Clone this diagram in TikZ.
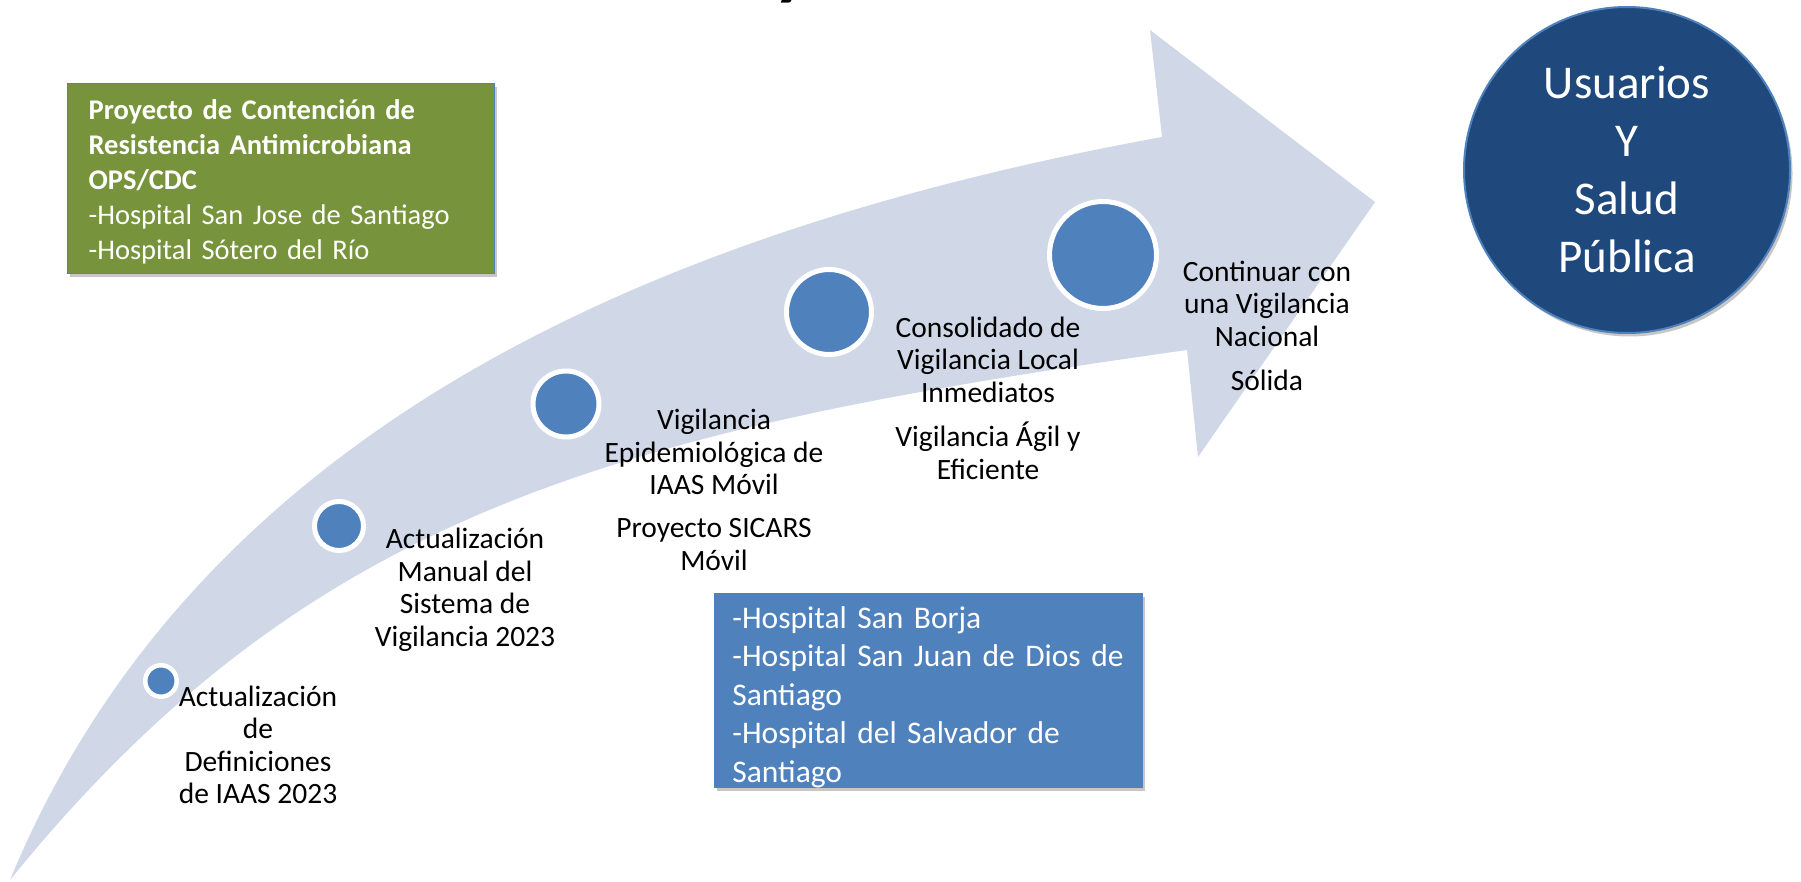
\documentclass[tikz,border=0pt]{standalone}
\usepackage{fontspec}
\setmainfont{Carlito}
\usetikzlibrary{shadows}
\definecolor{arrowc}{HTML}{D0D8E8}
\definecolor{dotc}{HTML}{4F81BD}
\definecolor{greenc}{HTML}{77933C}
\definecolor{navyc}{HTML}{1F497D}
\begin{document}
\begin{tikzpicture}[x=1pt,y=-1pt,
  dot/.style={circle, fill=dotc, draw=white, line width=5pt, inner sep=0pt},
  steptext/.style={align=center, inner sep=0pt, font=\fontsize{29.5}{32.5}\selectfont},
  softshadow/.style={drop shadow={shadow xshift=2.5pt, shadow yshift=-3.5pt, opacity=0.22, fill=black}},
  greenbox/.style={rectangle, fill=greenc, draw=dotc, line width=1.2pt, text=white, align=left,
     inner xsep=21pt, inner ysep=0pt, anchor=north west, softshadow,
     font=\fontsize{28.5}{35}\selectfont},
  bluebox/.style={rectangle, fill=dotc, draw=dotc, line width=0.8pt, text=white, align=left,
     inner xsep=18pt, inner ysep=0pt, anchor=north west, softshadow,
     font=\fontsize{31.5}{38.5}\selectfont},
  goal/.style={circle, fill=navyc, draw=dotc, line width=2pt, text=white, align=center,
     inner sep=0pt, softshadow, font=\fontsize{47}{58}\selectfont}]
\useasboundingbox (0,0) rectangle (1801,882);
\fill[white] (0,0) rectangle (1801,882);
% partial title glyph cut by the top edge
\begin{scope}
\clip (0,0) rectangle (1801,882);
\node[anchor=base, inner sep=0pt, font=\fontsize{80}{80}\selectfont\bfseries] (titley) at (792,-9) {y};
\end{scope}
% curved arrow
\coordinate (tail) at (10,880);
\coordinate (uj) at (1162,137);
\coordinate (hl) at (1150,30);
\coordinate (tip) at (1375,202);
\coordinate (hb) at (1198,457);
\coordinate (lj) at (1187,350);
\fill[arrowc] (tail) .. controls (200,420) and (670,227) .. (uj) -- (hl) -- (tip) -- (hb) -- (lj)
   .. controls (620,430) and (310,510) .. (tail) -- cycle;
% milestones
\node[dot, line width=4.5pt, minimum size=31.5pt] (d1) at (161,681) {};
\node[dot, minimum size=49pt] (d2) at (339,526) {};
\node[dot, minimum size=66pt] (d3) at (566,404) {};
\node[dot, minimum size=85pt] (d4) at (829,312) {};
\node[dot, minimum size=107pt] (d5) at (1103,255) {};
% texts
\node[steptext] (t1) at (258,745) {Actualización\\de\\Definiciones\\de IAAS 2023};
\node[steptext] (t2) at (465,590) {Actualización\\Manual del\\Sistema de\\Vigilancia 2023};
\node[steptext] (t3) at (714,490) {Vigilancia\\Epidemiológica de\\IAAS Móvil\\[10.5pt]Proyecto SICARS\\Móvil};
\node[steptext] (t4) at (988,398) {Consolidado de\\Vigilancia Local\\Inmediatos\\[12pt]Vigilancia Ágil y\\Eficiente};
\node[steptext] (t5) at (1267,326) {Continuar con\\una Vigilancia\\Nacional\\[12pt]Sólida};
% boxes
\node[greenbox, text width=385pt, minimum height=190pt] (green) at (67,83)
  {\rule{0pt}{27pt}\textbf{Proyecto de Contención de}\\\textbf{Resistencia Antimicrobiana}\\\textbf{OPS/CDC}\\-Hospital San Jose de Santiago\\-Hospital Sótero del Río};
\node[bluebox, text width=392pt, minimum height=191pt] (blue) at (714,593)
  {\rule{0pt}{35pt}-Hospital San Borja\\-Hospital San Juan de Dios de\\Santiago\\-Hospital del Salvador de\\Santiago};
\node[goal, minimum size=326pt] (goal) at (1627,170) {Usuarios\\Y\\Salud\\Pública};
\end{tikzpicture}
\end{document}
